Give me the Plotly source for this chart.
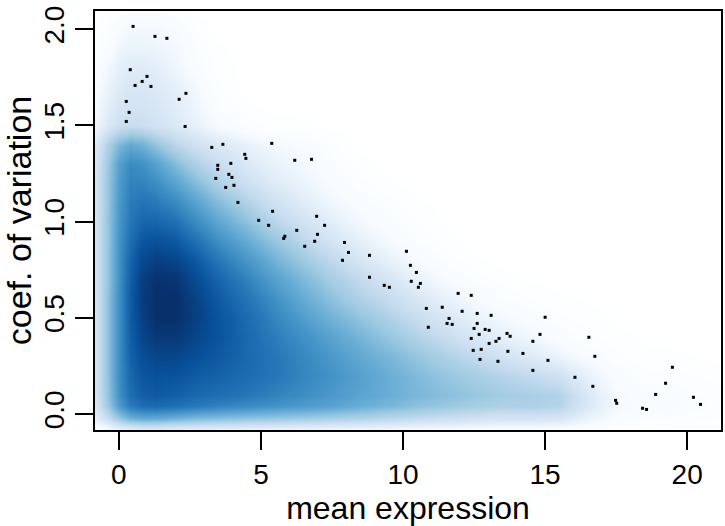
import plotly.graph_objects as go

# Smoothed density of (mean expression, coefficient of variation), on a coarse grid
grid_x = [-0.8, -0.4, 0.0, 0.4, 0.8, 1.3, 2.0, 2.7, 3.5, 4.5, 5.5, 6.5, 7.5, 8.5,
          9.5, 10.5, 11.5, 12.5, 13.5, 14.5, 15.5, 16.5, 17.5, 18.5, 19.5, 20.5, 21.2]
grid_y = [-0.08, -0.02, 0.04, 0.1, 0.2, 0.3, 0.4, 0.5, 0.6, 0.7, 0.8, 0.9, 1.0,
          1.1, 1.2, 1.3, 1.4, 1.5, 1.6, 1.7, 1.8, 1.9, 2.0, 2.1]
density = [
    [0.06, 0.12, 0.18, 0.22, 0.24, 0.24, 0.22, 0.21, 0.20, 0.19, 0.18, 0.17, 0.16, 0.15, 0.14, 0.13, 0.12, 0.11, 0.10, 0.10, 0.10, 0.07, 0.04, 0.03, 0.03, 0.02, 0.02],
    [0.20, 0.33, 0.46, 0.55, 0.58, 0.58, 0.55, 0.52, 0.50, 0.48, 0.46, 0.44, 0.42, 0.40, 0.37, 0.34, 0.31, 0.29, 0.27, 0.27, 0.26, 0.17, 0.10, 0.07, 0.06, 0.05, 0.04],
    [0.26, 0.45, 0.63, 0.74, 0.79, 0.80, 0.78, 0.75, 0.72, 0.69, 0.66, 0.63, 0.60, 0.56, 0.52, 0.48, 0.45, 0.42, 0.40, 0.40, 0.38, 0.24, 0.13, 0.09, 0.08, 0.07, 0.05],
    [0.28, 0.47, 0.67, 0.79, 0.84, 0.86, 0.84, 0.81, 0.79, 0.76, 0.72, 0.68, 0.64, 0.60, 0.56, 0.52, 0.49, 0.46, 0.43, 0.41, 0.39, 0.24, 0.12, 0.08, 0.08, 0.06, 0.05],
    [0.28, 0.48, 0.68, 0.81, 0.87, 0.89, 0.88, 0.85, 0.83, 0.80, 0.76, 0.71, 0.66, 0.61, 0.56, 0.51, 0.46, 0.42, 0.38, 0.34, 0.29, 0.18, 0.09, 0.05, 0.05, 0.04, 0.03],
    [0.28, 0.48, 0.68, 0.83, 0.90, 0.93, 0.93, 0.90, 0.86, 0.81, 0.76, 0.70, 0.64, 0.58, 0.52, 0.46, 0.40, 0.34, 0.28, 0.22, 0.16, 0.10, 0.05, 0.02, 0.02, 0.01, 0.00],
    [0.28, 0.48, 0.68, 0.84, 0.93, 0.97, 0.97, 0.93, 0.88, 0.81, 0.74, 0.67, 0.60, 0.53, 0.46, 0.39, 0.32, 0.25, 0.19, 0.14, 0.09, 0.05, 0.02, 0.01, 0.00, 0.00, 0.00],
    [0.28, 0.48, 0.68, 0.85, 0.95, 1.00, 1.00, 0.95, 0.88, 0.80, 0.71, 0.62, 0.54, 0.47, 0.40, 0.32, 0.25, 0.18, 0.13, 0.09, 0.05, 0.03, 0.01, 0.00, 0.00, 0.00, 0.00],
    [0.28, 0.48, 0.68, 0.85, 0.96, 1.00, 1.00, 0.94, 0.86, 0.77, 0.67, 0.57, 0.48, 0.40, 0.33, 0.25, 0.18, 0.12, 0.07, 0.04, 0.02, 0.01, 0.00, 0.00, 0.00, 0.00, 0.00],
    [0.28, 0.47, 0.67, 0.84, 0.95, 0.99, 0.98, 0.91, 0.82, 0.72, 0.61, 0.51, 0.42, 0.34, 0.26, 0.18, 0.11, 0.06, 0.03, 0.01, 0.00, 0.00, 0.00, 0.00, 0.00, 0.00, 0.00],
    [0.28, 0.47, 0.67, 0.82, 0.92, 0.95, 0.93, 0.86, 0.76, 0.65, 0.54, 0.44, 0.35, 0.26, 0.18, 0.11, 0.06, 0.02, 0.00, 0.00, 0.00, 0.00, 0.00, 0.00, 0.00, 0.00, 0.00],
    [0.28, 0.47, 0.66, 0.79, 0.87, 0.89, 0.86, 0.78, 0.68, 0.57, 0.46, 0.36, 0.27, 0.19, 0.12, 0.07, 0.03, 0.00, 0.00, 0.00, 0.00, 0.00, 0.00, 0.00, 0.00, 0.00, 0.00],
    [0.28, 0.47, 0.65, 0.76, 0.82, 0.82, 0.78, 0.69, 0.59, 0.48, 0.37, 0.28, 0.20, 0.13, 0.08, 0.04, 0.01, 0.00, 0.00, 0.00, 0.00, 0.00, 0.00, 0.00, 0.00, 0.00, 0.00],
    [0.28, 0.46, 0.64, 0.74, 0.77, 0.75, 0.69, 0.60, 0.50, 0.39, 0.29, 0.21, 0.14, 0.09, 0.05, 0.02, 0.00, 0.00, 0.00, 0.00, 0.00, 0.00, 0.00, 0.00, 0.00, 0.00, 0.00],
    [0.28, 0.46, 0.63, 0.72, 0.72, 0.68, 0.60, 0.50, 0.40, 0.30, 0.22, 0.16, 0.10, 0.05, 0.02, 0.00, 0.00, 0.00, 0.00, 0.00, 0.00, 0.00, 0.00, 0.00, 0.00, 0.00, 0.00],
    [0.27, 0.45, 0.61, 0.69, 0.67, 0.61, 0.50, 0.40, 0.32, 0.24, 0.17, 0.13, 0.07, 0.03, 0.00, 0.00, 0.00, 0.00, 0.00, 0.00, 0.00, 0.00, 0.00, 0.00, 0.00, 0.00, 0.00],
    [0.24, 0.40, 0.52, 0.58, 0.55, 0.47, 0.37, 0.29, 0.24, 0.18, 0.13, 0.10, 0.05, 0.00, 0.00, 0.00, 0.00, 0.00, 0.00, 0.00, 0.00, 0.00, 0.00, 0.00, 0.00, 0.00, 0.00],
    [0.14, 0.24, 0.30, 0.32, 0.31, 0.28, 0.23, 0.18, 0.11, 0.06, 0.03, 0.02, 0.00, 0.00, 0.00, 0.00, 0.00, 0.00, 0.00, 0.00, 0.00, 0.00, 0.00, 0.00, 0.00, 0.00, 0.00],
    [0.12, 0.20, 0.25, 0.27, 0.27, 0.25, 0.21, 0.15, 0.07, 0.02, 0.00, 0.00, 0.00, 0.00, 0.00, 0.00, 0.00, 0.00, 0.00, 0.00, 0.00, 0.00, 0.00, 0.00, 0.00, 0.00, 0.00],
    [0.10, 0.17, 0.22, 0.25, 0.25, 0.23, 0.19, 0.13, 0.05, 0.00, 0.00, 0.00, 0.00, 0.00, 0.00, 0.00, 0.00, 0.00, 0.00, 0.00, 0.00, 0.00, 0.00, 0.00, 0.00, 0.00, 0.00],
    [0.08, 0.14, 0.19, 0.22, 0.22, 0.20, 0.15, 0.08, 0.03, 0.00, 0.00, 0.00, 0.00, 0.00, 0.00, 0.00, 0.00, 0.00, 0.00, 0.00, 0.00, 0.00, 0.00, 0.00, 0.00, 0.00, 0.00],
    [0.05, 0.10, 0.15, 0.17, 0.17, 0.16, 0.13, 0.07, 0.02, 0.00, 0.00, 0.00, 0.00, 0.00, 0.00, 0.00, 0.00, 0.00, 0.00, 0.00, 0.00, 0.00, 0.00, 0.00, 0.00, 0.00, 0.00],
    [0.02, 0.06, 0.10, 0.13, 0.13, 0.13, 0.10, 0.04, 0.00, 0.00, 0.00, 0.00, 0.00, 0.00, 0.00, 0.00, 0.00, 0.00, 0.00, 0.00, 0.00, 0.00, 0.00, 0.00, 0.00, 0.00, 0.00],
    [0.00, 0.02, 0.05, 0.07, 0.07, 0.07, 0.04, 0.00, 0.00, 0.00, 0.00, 0.00, 0.00, 0.00, 0.00, 0.00, 0.00, 0.00, 0.00, 0.00, 0.00, 0.00, 0.00, 0.00, 0.00, 0.00, 0.00],
]

# Sparse genes drawn individually on top of the density
outlier_mean = [0.50, 1.27, 1.69, 0.40, 0.99, 0.82, 0.57, 1.13, 2.36, 2.12, 0.26, 0.36,
                0.26, 2.33, 3.27, 3.66, 5.38, 4.43, 4.47, 6.19, 6.78, 3.48, 3.94, 3.48,
                3.87, 3.98, 3.41, 4.05, 3.76, 4.19, 5.41, 4.92, 5.27, 6.96, 7.24, 6.26,
                6.99, 5.84, 5.80, 6.89, 6.54, 7.94, 8.08, 7.87, 8.82, 8.82,
                10.12, 10.26, 10.47, 10.29, 10.61, 10.54, 9.34, 9.52, 11.94, 12.40,
                10.82, 11.38, 12.08, 12.61, 13.10, 15.00, 11.62, 11.55, 11.73, 10.89,
                12.61, 12.50, 12.89, 13.03, 12.68, 13.66, 13.77, 13.38, 13.27, 14.82,
                14.57, 12.40, 13.03, 12.47, 12.75, 13.69, 14.22, 12.71, 13.34, 15.10,
                14.57, 16.05, 16.54, 16.75, 16.68, 17.48, 17.52, 18.43, 18.57, 18.89,
                19.24, 19.48, 20.22, 20.47]
outlier_cv = [2.015, 1.963, 1.953, 1.790, 1.755, 1.729, 1.708, 1.703, 1.667, 1.636, 1.625, 1.568,
              1.521, 1.495, 1.386, 1.402, 1.407, 1.350, 1.329, 1.319, 1.324, 1.293, 1.303, 1.272,
              1.246, 1.230, 1.225, 1.189, 1.178, 1.100, 1.054, 1.007, 0.981, 1.028, 0.981, 0.955,
              0.934, 0.924, 0.913, 0.898, 0.872, 0.892, 0.840, 0.799, 0.825, 0.711,
              0.846, 0.773, 0.736, 0.690, 0.679, 0.659, 0.669, 0.659, 0.627, 0.617,
              0.549, 0.555, 0.534, 0.523, 0.513, 0.503, 0.497, 0.471, 0.466, 0.451,
              0.471, 0.445, 0.440, 0.435, 0.414, 0.419, 0.404, 0.393, 0.378, 0.414,
              0.378, 0.393, 0.367, 0.331, 0.336, 0.326, 0.315, 0.284, 0.274, 0.279,
              0.227, 0.191, 0.399, 0.300, 0.144, 0.071, 0.056, 0.030, 0.024, 0.102,
              0.160, 0.243, 0.087, 0.050]

x_ticks = [0, 5, 10, 15, 20]
y_ticks = [0.0, 0.5, 1.0, 1.5, 2.0]
y_tick_text = ["0.0", "0.5", "1.0", "1.5", "2.0"]

# white followed by the nine "Blues" shades
ramp = ["#FFFFFF", "#F7FBFF", "#DEEBF7", "#C6DBEF", "#9ECAE1", "#6BAED6",
        "#4292C6", "#2171B5", "#08519C", "#08306B"]
colorscale = [[i / (len(ramp) - 1), c] for i, c in enumerate(ramp)]

fig = go.Figure()
fig.add_trace(go.Heatmap(
    x=grid_x, y=grid_y, z=density,
    colorscale=colorscale, zmin=0, zmax=1,
    zsmooth="best", showscale=False, hoverinfo="skip",
))
fig.add_trace(go.Scatter(
    x=outlier_mean, y=outlier_cv, mode="markers",
    marker=dict(symbol="square", size=3, color="black", line=dict(width=0)),
    showlegend=False, hoverinfo="skip",
))

font_family = "Liberation Sans, Arial, sans-serif"
axis_common = dict(
    showgrid=False, zeroline=False,
    showline=True, mirror=True, linecolor="black", linewidth=2,
    ticks="outside", ticklen=18, tickwidth=2, tickcolor="black",
    tickfont=dict(family=font_family, size=28, color="black"),
)

fig.update_layout(
    width=725, height=526,
    margin=dict(l=95, r=2, t=11, b=96),
    paper_bgcolor="white", plot_bgcolor="white",
    showlegend=False,
    xaxis=dict(
        range=[-0.84, 21.19], tickvals=x_ticks,
        title=dict(text="mean expression", standoff=6,
                   font=dict(family=font_family, size=32, color="black")),
        **axis_common,
    ),
    yaxis=dict(
        range=[-0.083, 2.095], tickvals=y_ticks, ticktext=y_tick_text, tickangle=-90,
        title=dict(text="coef. of variation", standoff=6,
                   font=dict(family=font_family, size=34, color="black")),
        **axis_common,
    ),
)

fig.write_html("out.html")
